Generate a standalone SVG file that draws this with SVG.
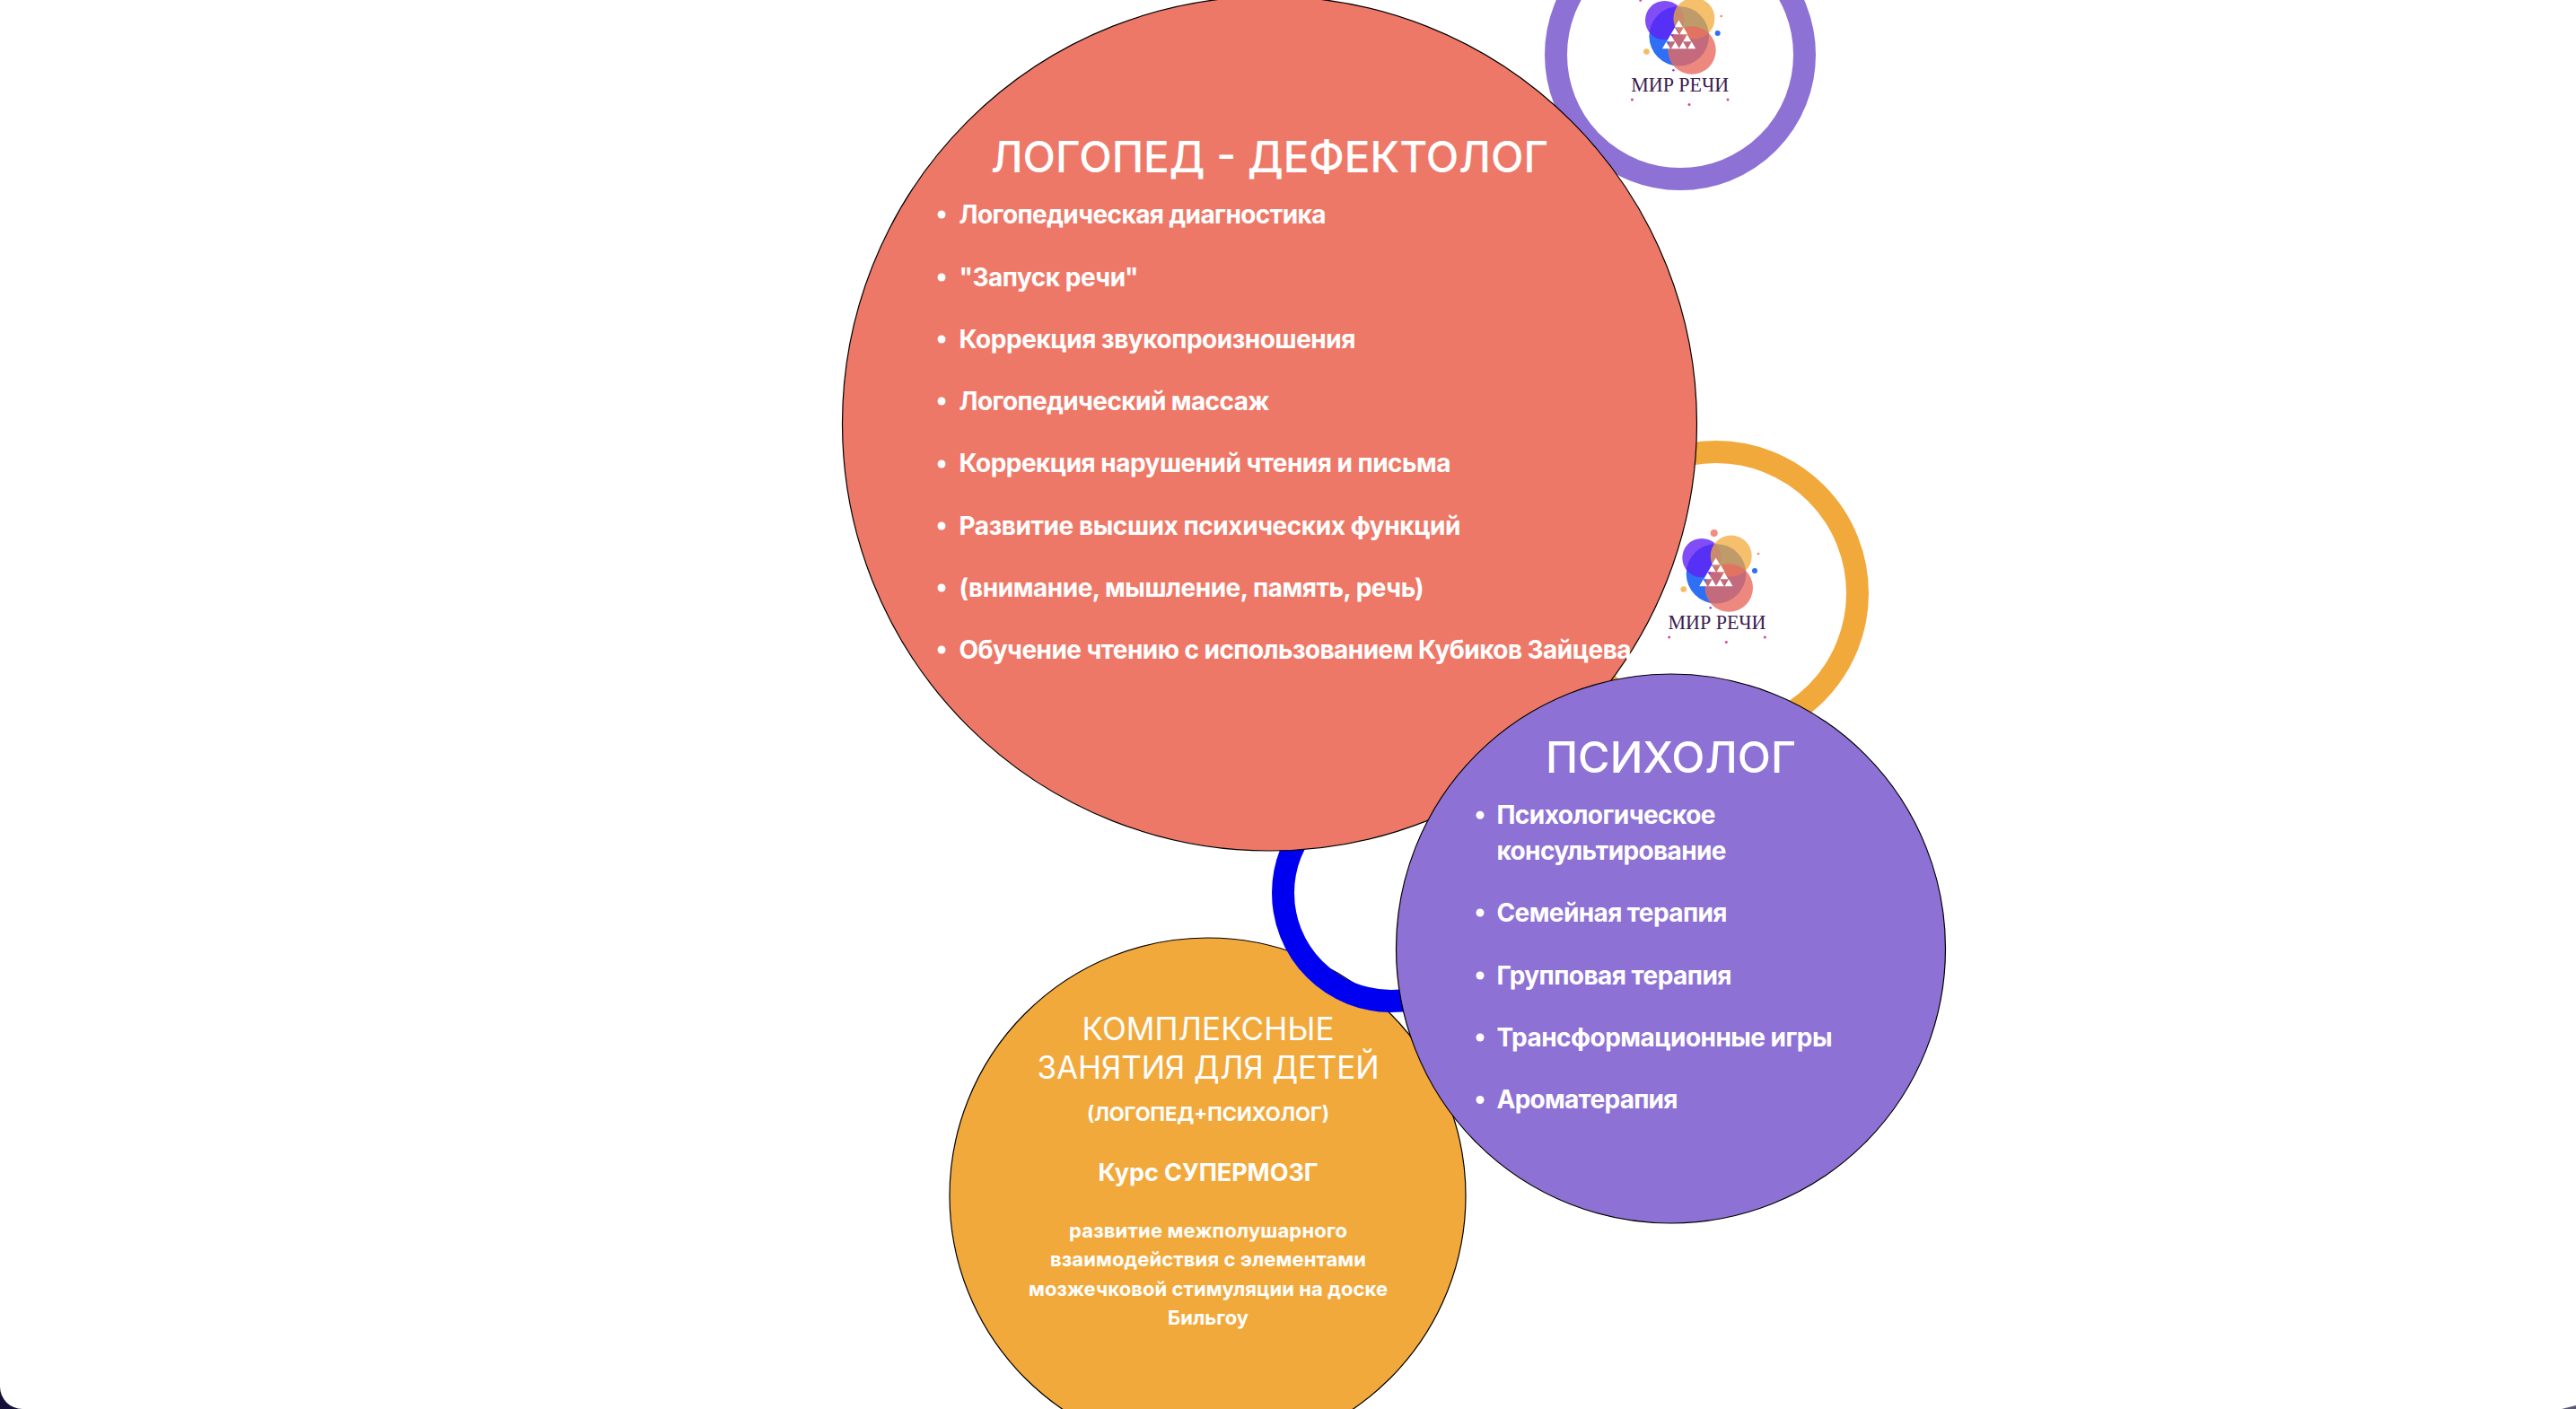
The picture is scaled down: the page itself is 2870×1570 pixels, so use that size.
<svg xmlns="http://www.w3.org/2000/svg" xmlns:xlink="http://www.w3.org/1999/xlink" width="2870" height="1570" viewBox="0 0 2870 1570">
<style>
text{font-family:"Inter","Liberation Sans",sans-serif;fill:#fff}
.circle{stroke:#000;stroke-width:1.2}
.ring{fill:#fff;stroke-width:25}
.t{font-size:48px;font-weight:450;text-anchor:middle}
.li{font-size:28px;font-weight:650}
.b{fill:#fff}
.c1{font-size:35px;font-weight:400;text-anchor:middle}
.c2{font-size:22px;font-weight:650;text-anchor:middle}
.c3{font-size:27px;font-weight:650;text-anchor:middle}
.c4{font-size:22px;font-weight:650;text-anchor:middle}
.lt{font-family:"Liberation Serif",serif;font-size:22.5px;fill:#3a2050;text-anchor:middle}
</style>
<defs>
<g id="logo">
<circle r="33.3" fill="#2e6ff5"/>
<circle cx="-16" cy="-17.7" r="21.7" fill="#6020f5" opacity=".8"/>
<circle cx="16.7" cy="-19.7" r="23" fill="#f2a93b" opacity=".75"/>
<circle cx="14.3" cy="15.7" r="26.7" fill="#e96a5f" opacity=".8"/>
<circle cx="-2.3" cy="-45.3" r="4" fill="#ee7867" opacity=".85"/>
<circle cx="-43" cy="-40" r="1.5" fill="#e0409a"/>
<circle cx="43" cy="-3.3" r="3" fill="#2e6ff5"/>
<circle cx="47" cy="-22.3" r="1.3" fill="#f08078"/>
<circle cx="-36.3" cy="17.3" r="3.3" fill="#f5bc66"/>
<circle cx="-6.3" cy="38" r="1.2" fill="#7a33f5"/>
<circle cx="-52.3" cy="70.7" r="1.5" fill="#e0409a"/>
<circle cx="11.3" cy="76.3" r="1.5" fill="#e0409a"/>
<circle cx="54.3" cy="70.7" r="1.5" fill="#e0409a"/>
<path fill="#fff" d="M-.3-17.8l4.500 7.800h-9zM-4.700-9.800l4.500 7.800h-9zM5-9.800l4.500 7.800h-9zM-9.300-1.800l4.500 7.800h-9zM9-1.800l4.500 7.800h-9zM-14.300 6.200l4.500 7.800h-9zM-4.300 6.200l4.500 7.800h-9zM4.300 6.200l4.500 7.800h-9zM14 6.200l4.500 7.800h-9z"/>
<text class="lt" x="1" y="62" textLength="109" lengthAdjust="spacingAndGlyphs">МИР РЕЧИ</text>
</g>
</defs>
<rect width="2870" height="1570" fill="#fff"/>
<path d="M0 1545v25h25A25 25 0 0 1 0 1545z" fill="#14103a"/>
<path d="M2870 1566v4h-16z" fill="#14103a" opacity=".7"/>
<g id="connectors"></g>
<g id="logo-ring-purple">
<circle class="ring" cx="1872" cy="61" r="138.5" stroke="#8e71d4"/>
<use xlink:href="#logo" href="#logo" x="1870.7" y="40.3"/>
</g>
<g id="logo-ring-orange">
<circle class="ring" cx="1912" cy="661" r="157.5" stroke="#f2a93b"/>
<use xlink:href="#logo" href="#logo" x="1912" y="639.3"/>
</g>
<g id="node-complex">
<circle class="circle" cx="1345.5" cy="1332.5" r="287.5" fill="#f2a93b"/>
<text class="c1" x="1346" y="1158.5" textLength="281">КОМПЛЕКСНЫЕ</text>
<text class="c1" x="1346" y="1201.5" textLength="381">ЗАНЯТИЯ ДЛЯ ДЕТЕЙ</text>
<text class="c2" x="1346" y="1248.5" textLength="270">(ЛОГОПЕД+ПСИХОЛОГ)</text>
<text class="c3" x="1346" y="1315.5" textLength="245">Курс СУПЕРМОЗГ</text>
<text class="c4" x="1346" y="1379" textLength="310">развитие межполушарного</text>
<text class="c4" x="1346" y="1411" textLength="352">взаимодействия с элементами</text>
<text class="c4" x="1346" y="1444" textLength="400">мозжечковой стимуляции на доске</text>
<text class="c4" x="1346" y="1476" textLength="90">Бильгоу</text>
</g>
<g id="logo-ring-blue">
<circle cx="1550" cy="995" r="120.5" stroke="#0000f0" stroke-width="25" fill="none"/>
</g>
<g id="node-logoped">
<circle class="circle" cx="1414.5" cy="472" r="476" fill="#ee7867"/>
<text class="t" x="1414.5" y="192" textLength="621" lengthAdjust="spacingAndGlyphs">ЛОГОПЕД - ДЕФЕКТОЛОГ</text>
<circle class="b" cx="1049" cy="239" r="4.5"/><text class="li" x="1068.5" y="248.5" textLength="409">Логопедическая диагностика</text>
<circle class="b" cx="1049" cy="309" r="4.5"/><text class="li" x="1068.5" y="318.5" textLength="200">"Запуск речи"</text>
<circle class="b" cx="1049" cy="378" r="4.5"/><text class="li" x="1068.5" y="387.5" textLength="442">Коррекция звукопроизношения</text>
<circle class="b" cx="1049" cy="447" r="4.5"/><text class="li" x="1068.5" y="456.5" textLength="346">Логопедический массаж</text>
<circle class="b" cx="1049" cy="517" r="4.5"/><text class="li" x="1068.5" y="526" textLength="548">Коррекция нарушений чтения и письма</text>
<circle class="b" cx="1049" cy="586" r="4.5"/><text class="li" x="1068.5" y="595.5" textLength="559">Развитие высших психических функций</text>
<circle class="b" cx="1049" cy="655" r="4.5"/><text class="li" x="1068.5" y="665" textLength="518">(внимание, мышление, память, речь)</text>
<circle class="b" cx="1049" cy="724" r="4.5"/><text class="li" x="1068.5" y="734" textLength="749">Обучение чтению с использованием Кубиков Зайцева</text>
</g>
<g id="node-psych">
<circle class="circle" cx="1861.5" cy="1057" r="306" fill="#8e71d4"/>
<text class="t" x="1861.5" y="860.5" textLength="279" lengthAdjust="spacingAndGlyphs">ПСИХОЛОГ</text>
<circle class="b" cx="1649" cy="908.3" r="4.5"/><text class="li" x="1667.5" y="917.5" textLength="244">Психологическое</text>
<text class="li" x="1667.5" y="957.5" textLength="256">консультирование</text>
<circle class="b" cx="1649" cy="1017" r="4.5"/><text class="li" x="1667.5" y="1026.5" textLength="257">Семейная терапия</text>
<circle class="b" cx="1649" cy="1087" r="4.5"/><text class="li" x="1667.5" y="1096.5" textLength="262">Групповая терапия</text>
<circle class="b" cx="1649" cy="1156" r="4.5"/><text class="li" x="1667.5" y="1165.5" textLength="374">Трансформационные игры</text>
<circle class="b" cx="1649" cy="1225.5" r="4.5"/><text class="li" x="1667.5" y="1234.5" textLength="202">Ароматерапия</text>
</g>
</svg>
